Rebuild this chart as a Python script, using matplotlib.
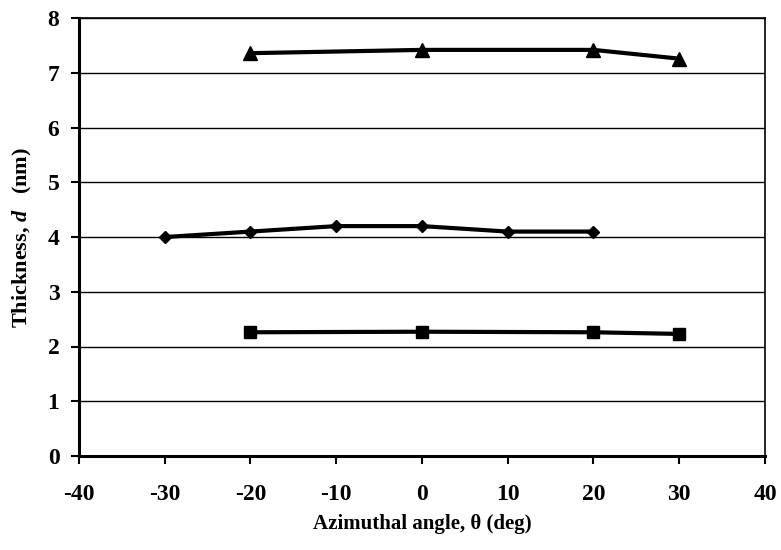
import matplotlib
matplotlib.use("Agg")
from matplotlib import pyplot as plt

tri_x = [-20, 0, 20, 30]
tri_y = [7.36, 7.42, 7.42, 7.26]

dia_x = [-30, -20, -10, 0, 10, 20]
dia_y = [4.0, 4.1, 4.2, 4.2, 4.1, 4.1]

sq_x = [-20, 0, 20, 30]
sq_y = [2.26, 2.27, 2.26, 2.23]

xticks = [-40, -30, -20, -10, 0, 10, 20, 30, 40]
yticks = [0, 1, 2, 3, 4, 5, 6, 7, 8]

plt.rcParams['font.family'] = ['Liberation Serif', 'DejaVu Serif']
plt.rcParams['font.weight'] = 'bold'
plt.rcParams['axes.unicode_minus'] = False
plt.rcParams['mathtext.fontset'] = 'custom'
plt.rcParams['mathtext.bfit'] = 'Liberation Serif:italic:bold'
plt.rcParams['mathtext.it'] = 'Liberation Serif:italic:bold'

fig = plt.figure(figsize=(7.81, 5.5), dpi=100)
ax = fig.add_axes([0.101, 0.171, 0.8785, 0.796])

ax.plot(tri_x, tri_y, color="black", lw=3, marker="^", ms=10)
ax.plot(dia_x, dia_y, color="black", lw=3, marker="D", ms=6.5)
ax.plot(sq_x, sq_y, color="black", lw=3, marker="s", ms=9)

ax.set_xlim(-40, 40)
ax.set_ylim(0, 8)
ax.set_xticks(xticks)
ax.set_yticks(yticks)
ax.grid(visible=True, axis='y', color="black", lw=1)
ax.set_axisbelow(True)

ax.tick_params(axis='both', direction='out', length=6, width=1.5, labelsize=17)
ax.tick_params(axis='x', pad=14)
ax.tick_params(axis='y', pad=8)
for lbl in ax.get_xticklabels() + ax.get_yticklabels():
    lbl.set_fontweight('bold')

ax.spines['left'].set_linewidth(2.2)
ax.spines['bottom'].set_linewidth(2.2)
ax.spines['top'].set_linewidth(1.2)
ax.spines['right'].set_linewidth(1.2)

ax.set_xlabel("Azimuthal angle, θ (deg)", fontsize=15, fontweight='bold', labelpad=7)
ax.set_ylabel("Thickness, $\\mathbfit{d}$   (nm)", fontsize=16, fontweight='bold', labelpad=10)

fig.savefig("out.png", dpi=100)
